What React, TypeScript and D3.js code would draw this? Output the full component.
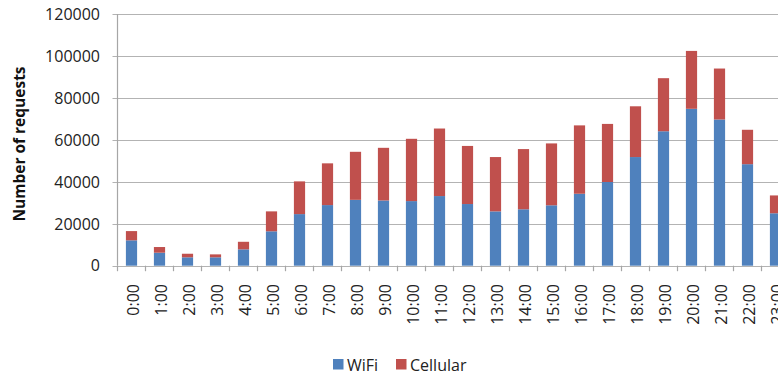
import React, { useEffect, useRef } from "react";
import * as d3 from "d3";

const hours = ["0:00","1:00","2:00","3:00","4:00","5:00","6:00","7:00","8:00","9:00","10:00","11:00","12:00","13:00","14:00","15:00","16:00","17:00","18:00","19:00","20:00","21:00","22:00","23:00"];
const wifi = [12100, 6200, 4000, 4000, 7800, 16400, 24600, 28900, 31400, 31100, 30800, 33200, 29400, 25900, 26900, 28800, 34300, 39900, 51800, 64100, 74800, 69700, 48400, 25000];
const cellular = [4400, 2700, 1700, 1400, 3600, 9500, 15600, 19900, 22900, 25100, 29700, 32200, 27700, 25900, 28700, 29500, 32600, 27700, 24200, 25300, 27600, 24300, 16400, 8500];
const yTicks = [0, 20000, 40000, 60000, 80000, 100000, 120000];
const seriesNames = ["WiFi", "Cellular"];
const seriesColors = ["#4F81BD", "#C0504D"];

const W = 778, H = 377;
const FONT = "'Open Sans', 'DejaVu Sans', sans-serif";

export default function App() {
  const ref = useRef<SVGSVGElement>(null);
  useEffect(() => {
    const svg = d3.select(ref.current);
    svg.selectAll("*").remove();
    const x0 = 117.5, step = 28;
    const x = d3.scaleBand().domain(hours).range([x0, x0 + step * hours.length]).paddingInner(0.6).paddingOuter(0.3);
    const y = d3.scaleLinear().domain([0, 120000]).range([265.7, 14]);

    // gridlines
    svg.append("g").selectAll("line").data(yTicks).join("line")
      .attr("x1", x0 - 5).attr("x2", W)
      .attr("y1", d => Math.round(y(d)) + 0.5).attr("y2", d => Math.round(y(d)) + 0.5)
      .attr("stroke", "#b3b3b3").attr("stroke-width", 1.2);

    // y axis line
    svg.append("line").attr("x1", x0).attr("x2", x0)
      .attr("y1", y(120000)).attr("y2", y(0))
      .attr("stroke", "#a6a6a6").attr("stroke-width", 1.2);

    // x tick marks
    const tickXs = d3.range(hours.length + 1).map(i => x0 + i * step);
    svg.append("g").selectAll("line").data(tickXs).join("line")
      .attr("x1", d => d).attr("x2", d => d)
      .attr("y1", y(0)).attr("y2", y(0) + 5.5)
      .attr("stroke", "#a6a6a6").attr("stroke-width", 1.2);

    // y tick labels
    svg.append("g").selectAll("text").data(yTicks).join("text")
      .attr("x", 100).attr("y", d => y(d)).attr("dy", "0.36em")
      .attr("text-anchor", "end")
      .attr("font-family", FONT).attr("font-size", 16).attr("fill", "#222")
      .text(d => String(d));

    // stacked bars
    const rows = hours.map((h, i) => ({ h, WiFi: wifi[i], Cellular: cellular[i] }));
    const stack = d3.stack<any>().keys(seriesNames)(rows);
    stack.forEach((layer, li) => {
      svg.append("g").selectAll("rect").data(layer).join("rect")
        .attr("x", d => x(d.data.h)!)
        .attr("width", x.bandwidth())
        .attr("y", d => y(d[1]))
        .attr("height", d => y(d[0]) - y(d[1]))
        .attr("fill", seriesColors[li]);
    });

    // x labels
    svg.append("g").selectAll("text").data(hours).join("text")
      .attr("transform", d => `translate(${x(d)! + x.bandwidth() / 2 + 2.2},284) rotate(-90)`)
      .attr("text-anchor", "end").attr("dy", "0.36em")
      .attr("font-family", FONT).attr("font-size", 16).attr("fill", "#222")
      .text(d => d);

    // y title
    svg.append("text")
      .attr("transform", `translate(19,144) rotate(-90)`)
      .attr("text-anchor", "middle").attr("dy", "0.36em")
      .attr("font-family", FONT).attr("font-size", 15.5).attr("font-weight", "bold").attr("fill", "#111")
      .text("Number of requests");

    // legend
    const legX = [333, 396];
    seriesNames.forEach((name, i) => {
      svg.append("rect").attr("x", legX[i]).attr("y", 359).attr("width", 10.5).attr("height", 10.5).attr("fill", seriesColors[i]);
      svg.append("text").attr("x", legX[i] + 14).attr("y", 370.5)
        .attr("font-family", FONT).attr("font-size", 16).attr("fill", "#222").text(name);
    });
  }, []);
  return (
    <svg ref={ref} width={W} height={H} style={{ position: "absolute", left: 0, top: 0, background: "#fff" }} />
  );
}
